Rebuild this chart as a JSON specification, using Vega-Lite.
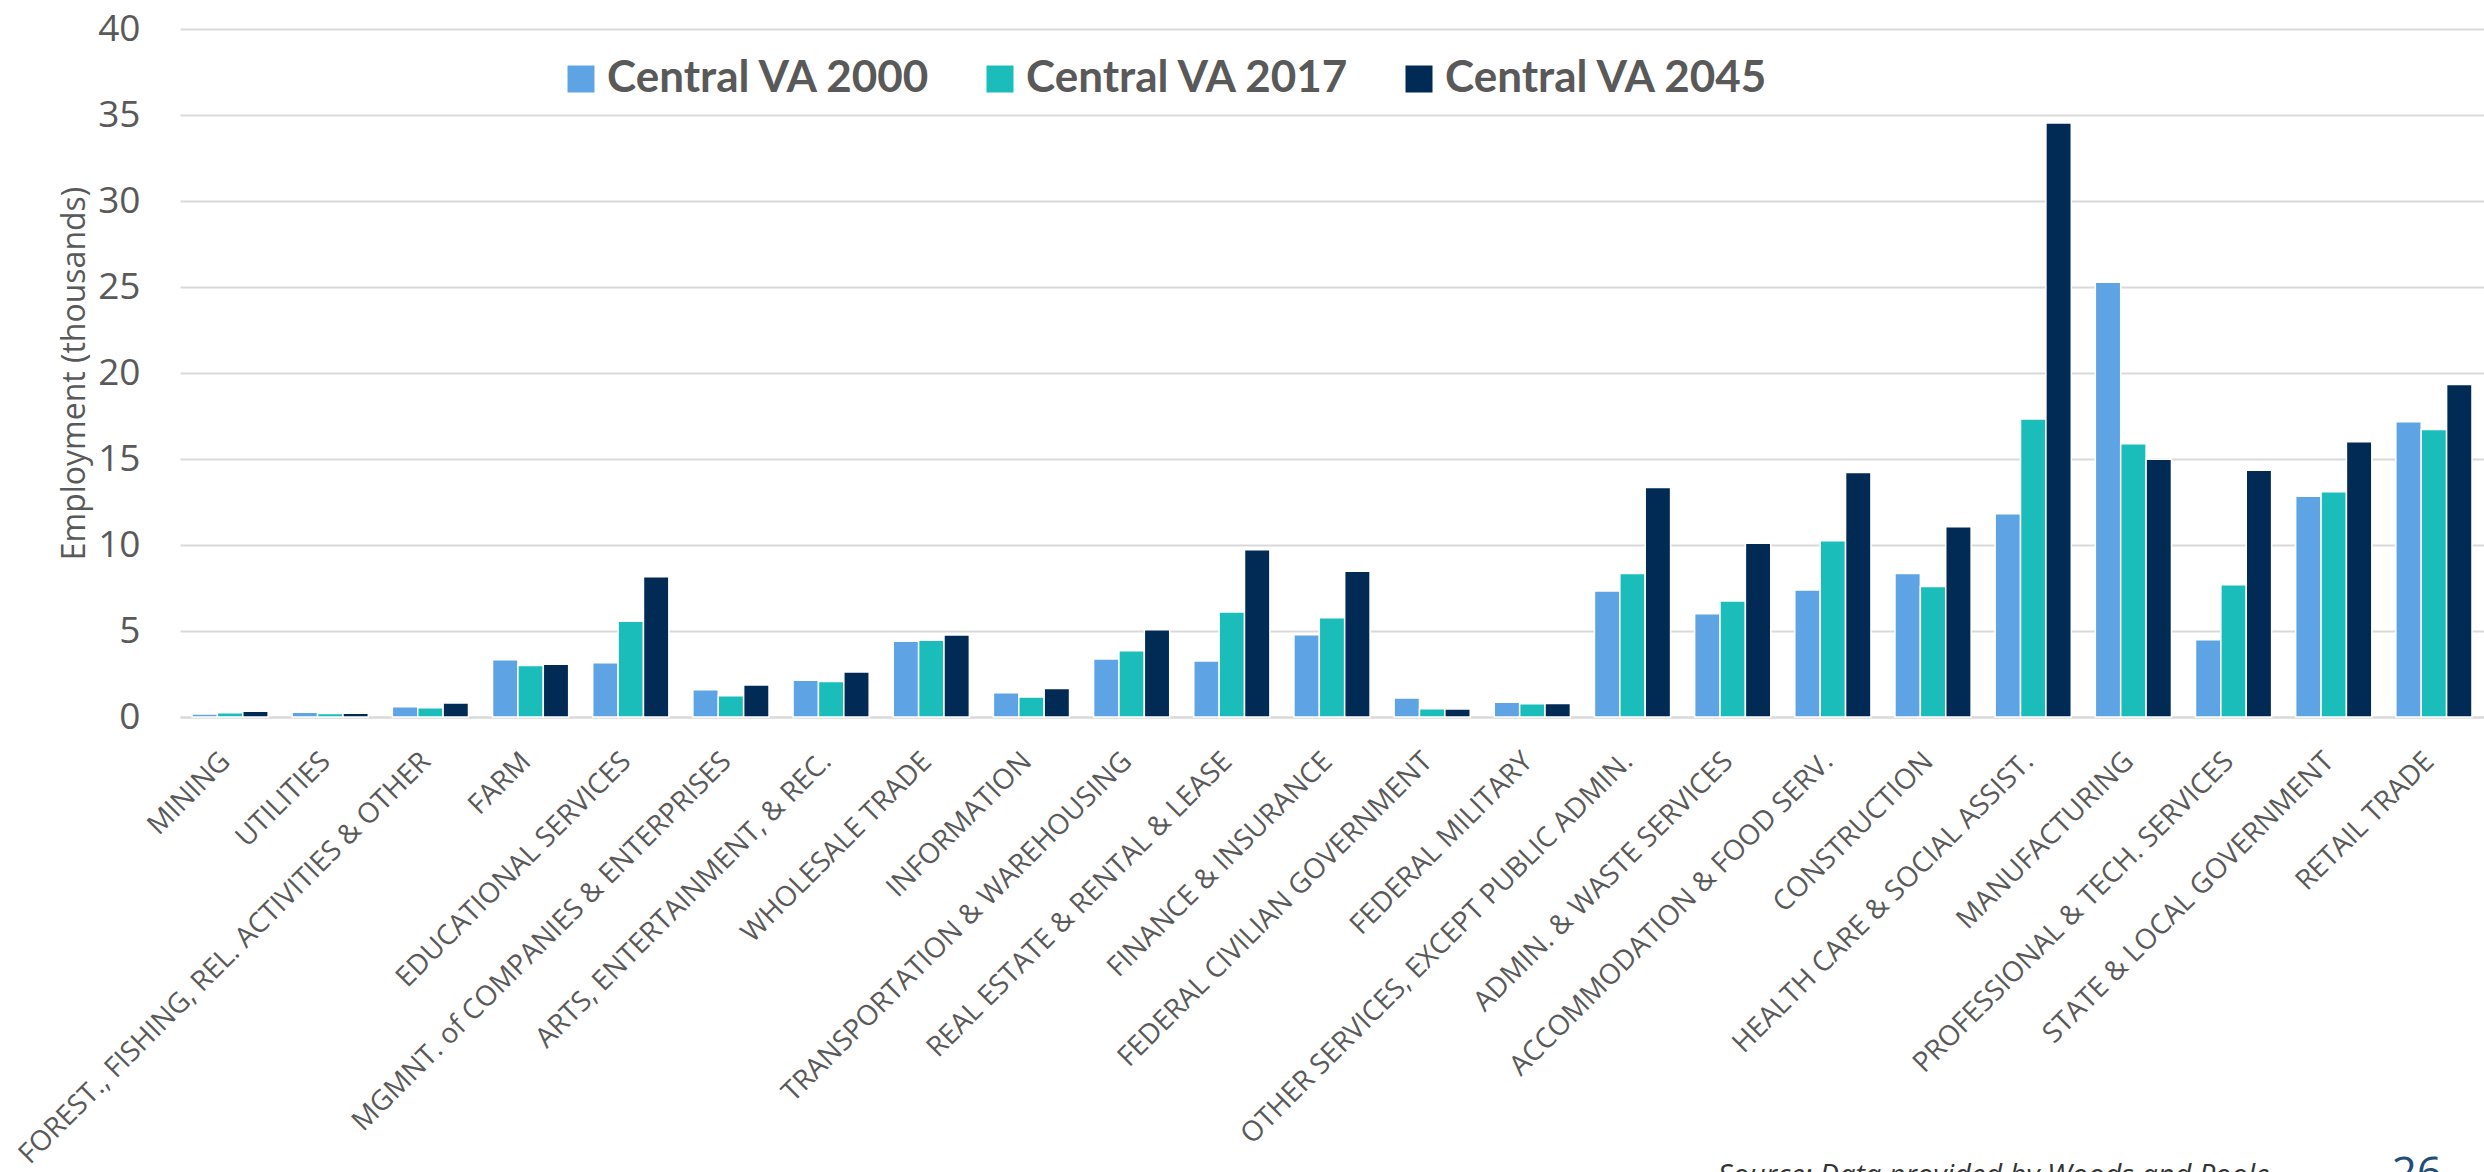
{
  "$schema": "https://vega.github.io/schema/vega-lite/v6.json",
  "width": 2304,
  "height": 688,
  "autosize": {"type": "none"},
  "padding": {"left": 180, "top": 29, "right": 0, "bottom": 455},
  "background": "white",
  "title": {
    "text": "26",
    "orient": "top",
    "frame": "group",
    "anchor": "end",
    "offset": -1222,
    "baseline": "alphabetic",
    "dx": -42,
    "font": "Open Sans",
    "fontSize": 44,
    "fontWeight": "normal",
    "color": "#1f4e79"
  },
  "data": {
    "values": [
      {"industry": "MINING", "series": "Central VA 2000", "value": 0.17},
      {"industry": "MINING", "series": "Central VA 2017", "value": 0.25},
      {"industry": "MINING", "series": "Central VA 2045", "value": 0.34},
      {"industry": "UTILITIES", "series": "Central VA 2000", "value": 0.28},
      {"industry": "UTILITIES", "series": "Central VA 2017", "value": 0.2},
      {"industry": "UTILITIES", "series": "Central VA 2045", "value": 0.22},
      {"industry": "FOREST., FISHING, REL. ACTIVITIES & OTHER", "series": "Central VA 2000", "value": 0.59},
      {"industry": "FOREST., FISHING, REL. ACTIVITIES & OTHER", "series": "Central VA 2017", "value": 0.54},
      {"industry": "FOREST., FISHING, REL. ACTIVITIES & OTHER", "series": "Central VA 2045", "value": 0.82},
      {"industry": "FARM", "series": "Central VA 2000", "value": 3.33},
      {"industry": "FARM", "series": "Central VA 2017", "value": 2.99},
      {"industry": "FARM", "series": "Central VA 2045", "value": 3.07},
      {"industry": "EDUCATIONAL SERVICES", "series": "Central VA 2000", "value": 3.16},
      {"industry": "EDUCATIONAL SERVICES", "series": "Central VA 2017", "value": 5.56},
      {"industry": "EDUCATIONAL SERVICES", "series": "Central VA 2045", "value": 8.15},
      {"industry": "MGMNT. of COMPANIES & ENTERPRISES", "series": "Central VA 2000", "value": 1.58},
      {"industry": "MGMNT. of COMPANIES & ENTERPRISES", "series": "Central VA 2017", "value": 1.24},
      {"industry": "MGMNT. of COMPANIES & ENTERPRISES", "series": "Central VA 2045", "value": 1.86},
      {"industry": "ARTS, ENTERTAINMENT, & REC.", "series": "Central VA 2000", "value": 2.14},
      {"industry": "ARTS, ENTERTAINMENT, & REC.", "series": "Central VA 2017", "value": 2.06},
      {"industry": "ARTS, ENTERTAINMENT, & REC.", "series": "Central VA 2045", "value": 2.62},
      {"industry": "WHOLESALE TRADE", "series": "Central VA 2000", "value": 4.4},
      {"industry": "WHOLESALE TRADE", "series": "Central VA 2017", "value": 4.46},
      {"industry": "WHOLESALE TRADE", "series": "Central VA 2045", "value": 4.77},
      {"industry": "INFORMATION", "series": "Central VA 2000", "value": 1.41},
      {"industry": "INFORMATION", "series": "Central VA 2017", "value": 1.16},
      {"industry": "INFORMATION", "series": "Central VA 2045", "value": 1.66},
      {"industry": "TRANSPORTATION & WAREHOUSING", "series": "Central VA 2000", "value": 3.37},
      {"industry": "TRANSPORTATION & WAREHOUSING", "series": "Central VA 2017", "value": 3.85},
      {"industry": "TRANSPORTATION & WAREHOUSING", "series": "Central VA 2045", "value": 5.07},
      {"industry": "REAL ESTATE & RENTAL & LEASE", "series": "Central VA 2000", "value": 3.26},
      {"industry": "REAL ESTATE & RENTAL & LEASE", "series": "Central VA 2017", "value": 6.1},
      {"industry": "REAL ESTATE & RENTAL & LEASE", "series": "Central VA 2045", "value": 9.73},
      {"industry": "FINANCE & INSURANCE", "series": "Central VA 2000", "value": 4.78},
      {"industry": "FINANCE & INSURANCE", "series": "Central VA 2017", "value": 5.77},
      {"industry": "FINANCE & INSURANCE", "series": "Central VA 2045", "value": 8.47},
      {"industry": "FEDERAL CIVILIAN GOVERNMENT", "series": "Central VA 2000", "value": 1.1},
      {"industry": "FEDERAL CIVILIAN GOVERNMENT", "series": "Central VA 2017", "value": 0.48},
      {"industry": "FEDERAL CIVILIAN GOVERNMENT", "series": "Central VA 2045", "value": 0.47},
      {"industry": "FEDERAL MILITARY", "series": "Central VA 2000", "value": 0.86},
      {"industry": "FEDERAL MILITARY", "series": "Central VA 2017", "value": 0.77},
      {"industry": "FEDERAL MILITARY", "series": "Central VA 2045", "value": 0.79},
      {"industry": "OTHER SERVICES, EXCEPT PUBLIC ADMIN.", "series": "Central VA 2000", "value": 7.33},
      {"industry": "OTHER SERVICES, EXCEPT PUBLIC ADMIN.", "series": "Central VA 2017", "value": 8.35},
      {"industry": "OTHER SERVICES, EXCEPT PUBLIC ADMIN.", "series": "Central VA 2045", "value": 13.34},
      {"industry": "ADMIN. & WASTE SERVICES", "series": "Central VA 2000", "value": 6.01},
      {"industry": "ADMIN. & WASTE SERVICES", "series": "Central VA 2017", "value": 6.74},
      {"industry": "ADMIN. & WASTE SERVICES", "series": "Central VA 2045", "value": 10.1},
      {"industry": "ACCOMMODATION & FOOD SERV.", "series": "Central VA 2000", "value": 7.39},
      {"industry": "ACCOMMODATION & FOOD SERV.", "series": "Central VA 2017", "value": 10.24},
      {"industry": "ACCOMMODATION & FOOD SERV.", "series": "Central VA 2045", "value": 14.22},
      {"industry": "CONSTRUCTION", "series": "Central VA 2000", "value": 8.35},
      {"industry": "CONSTRUCTION", "series": "Central VA 2017", "value": 7.59},
      {"industry": "CONSTRUCTION", "series": "Central VA 2045", "value": 11.06},
      {"industry": "HEALTH CARE & SOCIAL ASSIST.", "series": "Central VA 2000", "value": 11.82},
      {"industry": "HEALTH CARE & SOCIAL ASSIST.", "series": "Central VA 2017", "value": 17.32},
      {"industry": "HEALTH CARE & SOCIAL ASSIST.", "series": "Central VA 2045", "value": 34.53},
      {"industry": "MANUFACTURING", "series": "Central VA 2000", "value": 25.27},
      {"industry": "MANUFACTURING", "series": "Central VA 2017", "value": 15.88},
      {"industry": "MANUFACTURING", "series": "Central VA 2045", "value": 14.99},
      {"industry": "PROFESSIONAL & TECH. SERVICES", "series": "Central VA 2000", "value": 4.49},
      {"industry": "PROFESSIONAL & TECH. SERVICES", "series": "Central VA 2017", "value": 7.69},
      {"industry": "PROFESSIONAL & TECH. SERVICES", "series": "Central VA 2045", "value": 14.35},
      {"industry": "STATE & LOCAL GOVERNMENT", "series": "Central VA 2000", "value": 12.83},
      {"industry": "STATE & LOCAL GOVERNMENT", "series": "Central VA 2017", "value": 13.1},
      {"industry": "STATE & LOCAL GOVERNMENT", "series": "Central VA 2045", "value": 16.01},
      {"industry": "RETAIL TRADE", "series": "Central VA 2000", "value": 17.17},
      {"industry": "RETAIL TRADE", "series": "Central VA 2017", "value": 16.71},
      {"industry": "RETAIL TRADE", "series": "Central VA 2045", "value": 19.33}
    ]
  },
  "mark": {"type": "bar", "stroke": "white", "strokeWidth": 1.5},
  "encoding": {
    "x": {
      "field": "industry",
      "type": "nominal",
      "sort": null,
      "scale": {"paddingInner": 0.24, "paddingOuter": 0.12},
      "axis": {
        "title": "Source: Data provided by Woods and Poole",
        "titleFont": "Open Sans",
        "titleFontStyle": "italic",
        "titleFontWeight": "normal",
        "titleFontSize": 29,
        "titleColor": "#333333",
        "titleX": 2089,
        "titleY": 467,
        "titleAlign": "right",
        "titleBaseline": "alphabetic",
        "titleAngle": 0,
        "domain": true,
        "domainColor": "#d9d9d9",
        "domainWidth": 2,
        "ticks": false,
        "tickSize": 0,
        "grid": false,
        "labelAngle": -45,
        "labelAlign": "right",
        "labelBaseline": "middle",
        "labelPadding": 40,
        "labelOffset": -4,
        "labelFont": "Open Sans",
        "labelFontSize": 28,
        "labelColor": "#595959",
        "labelLimit": 2000,
        "labelOverlap": false
      }
    },
    "xOffset": {"field": "series", "type": "nominal", "scale": {"paddingInner": 0, "paddingOuter": 0}},
    "y": {
      "field": "value",
      "type": "quantitative",
      "scale": {"domain": [0, 40], "nice": false},
      "axis": {
        "title": "Employment (thousands)",
        "titleFont": "Open Sans",
        "titleFontWeight": "normal",
        "titleFontSize": 32,
        "titleColor": "#595959",
        "titleAngle": -90,
        "titleX": -96,
        "titleY": 344,
        "titleAlign": "center",
        "titleBaseline": "alphabetic",
        "values": [0, 5, 10, 15, 20, 25, 30, 35, 40],
        "domain": false,
        "ticks": false,
        "tickSize": 0,
        "grid": true,
        "gridColor": "#d9d9d9",
        "gridWidth": 2,
        "labelPadding": 40,
        "labelFont": "Open Sans",
        "labelFontSize": 37,
        "labelColor": "#595959"
      }
    },
    "color": {
      "field": "series",
      "type": "nominal",
      "scale": {
        "domain": ["Central VA 2000", "Central VA 2017", "Central VA 2045"],
        "range": ["#5ea3e4", "#1abdba", "#012b54"]
      },
      "legend": {
        "title": null,
        "orient": "none",
        "legendX": 379,
        "legendY": 28,
        "direction": "horizontal",
        "padding": 0,
        "symbolType": "square",
        "symbolSize": 729,
        "symbolStrokeWidth": 0,
        "symbolOpacity": 1,
        "labelFont": "Lato",
        "labelFontWeight": "bold",
        "labelFontSize": 44,
        "labelColor": "#595959",
        "labelOffset": 4,
        "columnPadding": 46,
        "labelLimit": 2000
      }
    }
  },
  "config": {
    "view": {"stroke": null}
  }
}
